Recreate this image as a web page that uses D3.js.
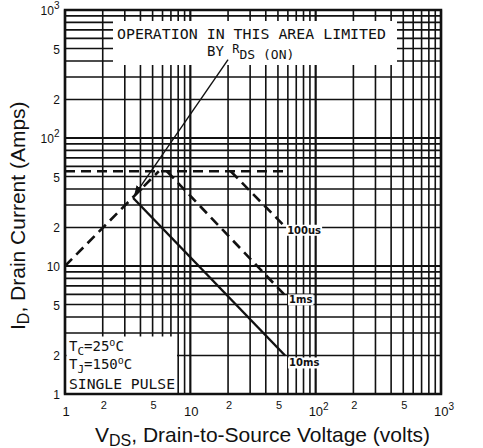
<!DOCTYPE html>
<html><head><meta charset="utf-8">
<script src="https://cdn.jsdelivr.net/npm/d3@7"></script>
<style>body{margin:0;background:#fff}</style>
</head><body><svg id="c" width="483" height="448"></svg>
<script>
// ---- data ----
const xTickValues = [1, 2, 5, 10, 20, 50, 100, 200, 500, 1000];
const xTickLabels = ["1", "2", "5", "10", "2", "5", "10^2", "2", "5", "10^3"];
const yTickValues = [1, 2, 5, 10, 20, 50, 100, 200, 500, 1000];
const yTickLabels = ["1", "2", "5", "10", "2", "5", "10^2", "2", "5", "10^3"];
const rdsV = [1, 5.6],   rdsI = [10, 55];      // R_DS(on) limit (dashed)
const limitV = [1, 57],  limitI = [55, 55];    // current limit (dashed)
const us100V = [21, 55], us100I = [55, 21];    // 100us
const ms1V = [6.5, 57],  ms1I = [55, 5.9];     // 1ms
const ms10V = [3.5, 57], ms10I = [34, 2.0];    // 10ms
const leaderV = [20, 3.6], leaderI = [410, 36];
const curveNames = ["100us", "1ms", "10ms"];

const svg = d3.select("#c");
const L = 65, R = 441, T = 10, B = 394;
const x = d3.scaleLog().domain([1, 1000]).range([L, R]);
const y = d3.scaleLog().domain([1, 1000]).range([B, T]);
const ink = "#111";
const isDecade = v => Math.abs(Math.log10(v) - Math.round(Math.log10(v))) < 1e-9;

// grid
const g = svg.append("g");
g.selectAll(".vx").data(x.ticks()).join("line")
  .attr("x1", d => x(d)).attr("x2", d => x(d)).attr("y1", T).attr("y2", B)
  .attr("stroke", ink).attr("stroke-width", d => isDecade(d) ? 2.2 : 1.6);
g.selectAll(".hy").data(y.ticks()).join("line")
  .attr("y1", d => y(d)).attr("y2", d => y(d)).attr("x1", L).attr("x2", R)
  .attr("stroke", ink).attr("stroke-width", d => isDecade(d) ? 2.2 : 1.6);

// white annotation areas
svg.append("rect").attr("x", 113).attr("y", 21).attr("width", 284).attr("height", 44).attr("fill", "#fff");
svg.append("rect").attr("x", 66.5).attr("y", 336.5).attr("width", 110.5).attr("height", 56.5).attr("fill", "#fff");

// frame
svg.append("rect").attr("x", L).attr("y", T).attr("width", R - L).attr("height", B - T)
  .attr("fill", "none").attr("stroke", ink).attr("stroke-width", 2.5);

// lines
const line = (vs, is) => d3.line()(vs.map((v, i) => [x(v), y(is[i])]));
function drawLine(vs, is, dash, w) {
  const p = svg.append("path").attr("d", line(vs, is)).attr("fill", "none")
    .attr("stroke", ink).attr("stroke-width", w);
  if (dash) p.attr("stroke-dasharray", dash);
  return p;
}
drawLine(rdsV, rdsI, "10,6", 2.6);
drawLine(limitV, limitI, "10,6", 2.6);
drawLine(us100V, us100I, "10,6", 2.6);
drawLine(ms1V, ms1I, "10,6", 2.6);
drawLine(ms10V, ms10I, null, 2.4);

// leader with arrowhead
svg.append("defs").append("marker").attr("id", "arr").attr("viewBox", "0 0 10 10")
  .attr("refX", 9).attr("refY", 5).attr("markerWidth", 7).attr("markerHeight", 7)
  .attr("orient", "auto").append("path").attr("d", "M0,1L10,5L0,9z").attr("fill", ink);
drawLine(leaderV, leaderI, null, 1.4).attr("marker-end", "url(#arr)");

// curve labels
const ends = [[us100V[1], us100I[1], 9], [ms1V[1], ms1I[1], 8], [ms10V[1], ms10I[1], 11]];
ends.forEach((e, i) => {
  const tx = x(e[0]) + 4, ty = y(e[1]) + e[2];
  const bg = svg.append("rect").attr("fill", "#fff");
  const t = svg.append("text").attr("x", tx).attr("y", ty)
    .attr("font-family", "DejaVu Sans, sans-serif").attr("font-size", 10).attr("font-weight", "bold")
    .attr("fill", ink).text(curveNames[i]);
  const bb = t.node().getBBox();
  bg.attr("x", bb.x - 1).attr("y", bb.y).attr("width", bb.width + 2).attr("height", bb.height);
});

// tick labels
function tickText(sel, lab) {
  const parts = lab.split("^");
  sel.append("tspan").text(parts[0]);
  if (parts[1]) sel.append("tspan").attr("dy", -6).attr("font-size", 10).text(parts[1]);
}
const tf = "Liberation Sans, Arial, sans-serif";
yTickValues.forEach((v, i) => {
  const lab = yTickLabels[i];
  const t = svg.append("text").attr("x", lab.includes("^") ? 50 : 60).attr("y", y(v) + 5)
    .attr("text-anchor", lab.includes("^") ? "middle" : "end")
    .attr("font-family", tf).attr("font-size", 12).attr("fill", ink);
  tickText(t, lab);
});
xTickValues.forEach((v, i) => {
  const lab = xTickLabels[i];
  const dec = isDecade(v);
  const t = svg.append("text").attr("x", x(v) + (lab.includes("^") ? 3 : 1)).attr("y", dec ? 416 : 409)
    .attr("text-anchor", "middle").attr("font-family", tf).attr("font-size", dec ? 13 : 11).attr("fill", ink);
  tickText(t, lab);
});

// annotation text
const mf = "DejaVu Sans Mono, monospace";
svg.append("text").attr("x", 117).attr("y", 39).attr("font-family", mf).attr("font-size", 14)
  .attr("textLength", 269).attr("lengthAdjust", "spacingAndGlyphs").attr("fill", ink)
  .text("OPERATION IN THIS AREA LIMITED");
const by = svg.append("text").attr("x", 207).attr("y", 56).attr("font-family", mf).attr("font-size", 14).attr("fill", ink);
by.append("tspan").text("BY ");
by.append("tspan").attr("dy", -3).attr("font-size", 12).text("R");
by.append("tspan").attr("dy", 6).attr("font-size", 13).text("DS (ON)");

const boxLines = [["T", "C", "=25", "o", "C"], ["T", "J", "=150", "o", "C"]];
boxLines.forEach((l, i) => {
  const t = svg.append("text").attr("x", 69).attr("y", 351 + i * 18).attr("font-family", mf)
    .attr("font-size", 14).attr("fill", ink);
  t.append("tspan").text(l[0]);
  t.append("tspan").attr("dy", 4).attr("font-size", 11).text(l[1]);
  t.append("tspan").attr("dy", -4).text(l[2]);
  t.append("tspan").attr("dy", -5).attr("font-size", 10).text(l[3]);
  t.append("tspan").attr("dy", 5).text(l[4]);
});
svg.append("text").attr("x", 69).attr("y", 389).attr("font-family", mf).attr("font-size", 14)
  .attr("textLength", 106).attr("lengthAdjust", "spacingAndGlyphs").attr("fill", ink).text("SINGLE PULSE");

// axis titles
const af = "Liberation Sans, Arial, sans-serif";
const xt = svg.append("text").attr("x", 95).attr("y", 442).attr("font-family", af).attr("font-size", 21).attr("fill", ink);
xt.append("tspan").text("V");
xt.append("tspan").attr("dy", 4).attr("font-size", 16).text("DS");
xt.append("tspan").attr("dy", -4).text(", Drain-to-Source Voltage (volts)");

const yt = svg.append("text").attr("transform", "translate(25,330) rotate(-90)").attr("text-anchor", "start")
  .attr("font-family", af).attr("font-size", 21).attr("fill", ink);
yt.append("tspan").text("I");
yt.append("tspan").attr("dy", 4).attr("font-size", 16).text("D");
yt.append("tspan").attr("dy", -4).text(", Drain Current (Amps)");
</script></body></html>
